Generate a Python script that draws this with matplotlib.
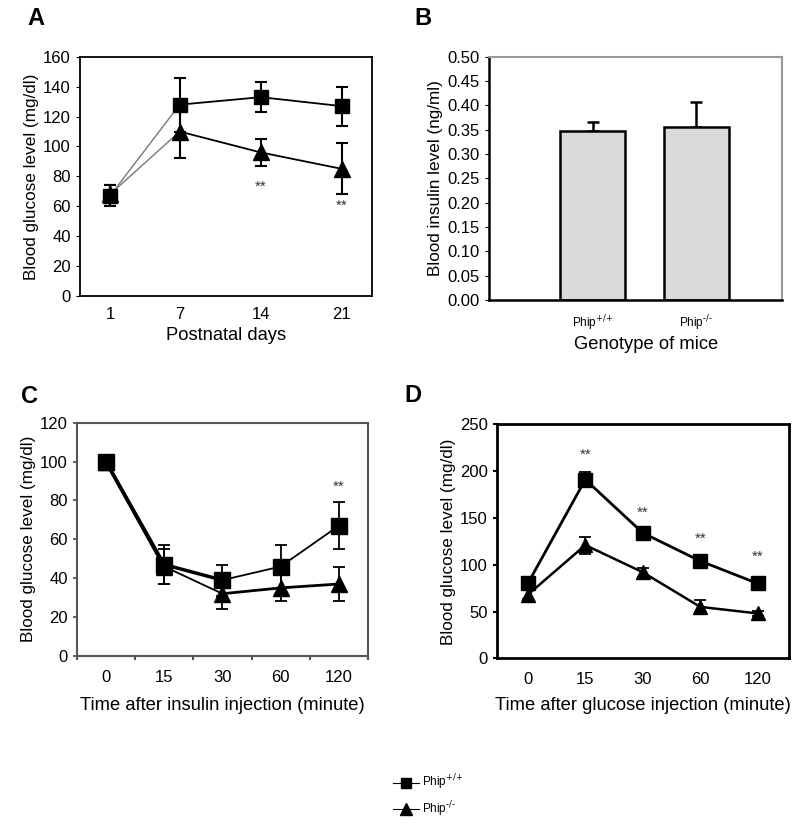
import matplotlib.pyplot as plt
import numpy as np

plt.rcParams['font.family'] = ['Liberation Sans', 'DejaVu Sans']

# panel A: postnatal glucose
days = [1, 7, 14, 21]
a_wt = [67, 128, 133, 127]
a_wt_err = [7, 18, 10, 13]
a_ko = [68, 110, 96, 85]
a_ko_err = [6, 18, 9, 17]
a_star_y = [None, None, 73, 60]

# panel B: insulin
genotypes = ['Phip$^{\\text{+/+}}$', 'Phip$^{\\text{-/-}}$']
insulin = [0.348, 0.355]
insulin_err = [0.019, 0.052]

# panel C: insulin tolerance
c_times = ['0', '15', '30', '60', '120']
c_wt = [100, 47, 39, 46, 67]
c_wt_err = [0, 10, 8, 11, 12]
c_ko = [100, 46, 32, 35, 37]
c_ko_err = [0, 9, 8, 7, 9]
c_star_y = [None, None, None, None, 87]

# panel D: glucose tolerance
d_times = ['0', '15', '30', '60', '120']
d_wt = [80, 191, 134, 104, 80]
d_wt_err = [4, 8, 3, 4, 3]
d_ko = [68, 121, 92, 55, 48]
d_ko_err = [5, 9, 5, 7, 3]
d_star_y = [None, 217, 156, 128, 108]

fig = plt.figure(figsize=(8, 8.24), dpi=100)

tick_fs = 12
xlab_fs = 13.2
ylab_fs = 12.3
star_fs = 11

# ---------- A ----------
ax = fig.add_axes([0.100, 0.641, 0.365, 0.290])
x = np.array(days)
ax.plot(x[:2], a_wt[:2], color='#777777', lw=1, zorder=2)
ax.plot(x[:2], a_ko[:2], color='#777777', lw=1, zorder=2)
ax.plot(x[1:], a_wt[1:], color='black', lw=1.3, zorder=2)
ax.plot(x[1:], a_ko[1:], color='black', lw=1.3, zorder=2)
ax.errorbar(x, a_ko, yerr=a_ko_err, fmt='^', color='black', ms=11,
            capsize=4, elinewidth=1.5, capthick=1.5, zorder=3)
ax.errorbar(x, a_wt, yerr=a_wt_err, fmt='s', color='black', ms=10,
            capsize=4, elinewidth=1.5, capthick=1.5, zorder=4)
for xi, s in zip(days, a_star_y):
    if s is not None:
        ax.text(xi, s, '**', ha='center', va='center', fontsize=star_fs, color='#333333')
ax.set_xlim(-1.6, 23.6)
ax.set_ylim(0, 160)
ax.set_yticks(range(0, 161, 20))
ax.set_xticks(days)
ax.tick_params(axis='x', length=0, labelsize=tick_fs, pad=8)
ax.tick_params(axis='y', length=3, labelsize=tick_fs)
ax.set_xlabel('Postnatal days', fontsize=xlab_fs, labelpad=4)
ax.set_ylabel('Blood glucose level (mg/dl)', fontsize=ylab_fs, labelpad=3)
for sp in ax.spines.values():
    sp.set_linewidth(1.3)
fig.text(0.034, 0.978, 'A', fontsize=17, fontweight='bold', va='center', ha='left')

# ---------- B ----------
ax = fig.add_axes([0.611, 0.636, 0.366, 0.295])
bx = [1, 2]
ax.bar(bx, insulin, width=0.63, color='#d9d9d9', edgecolor='black', lw=1.8, zorder=2)
ax.errorbar(bx, insulin, yerr=[[0, 0], insulin_err], fmt='none', ecolor='black',
            capsize=4, elinewidth=1.8, capthick=1.8, zorder=1)
ax.set_xlim(0, 2.82)
ax.set_ylim(0, 0.5)
ax.set_yticks(np.arange(0, 0.501, 0.05))
ax.set_yticklabels(['%.2f' % v for v in np.arange(0, 0.501, 0.05)])
ax.set_xticks(bx)
ax.set_xticklabels(genotypes, fontsize=8.5)
ax.tick_params(axis='x', length=0, pad=10)
ax.tick_params(axis='y', length=3, labelsize=tick_fs)
ax.set_xlabel('Genotype of mice', fontsize=xlab_fs)
ax.xaxis.set_label_coords(0.536, -0.15)
ax.set_ylabel('Blood insulin level (ng/ml)', fontsize=ylab_fs, labelpad=3)
ax.spines['left'].set_linewidth(1.8)
ax.spines['bottom'].set_linewidth(1.8)
for k in ['top', 'right']:
    ax.spines[k].set_color('#999999')
    ax.spines[k].set_linewidth(1.5)
fig.text(0.518, 0.978, 'B', fontsize=17, fontweight='bold', va='center', ha='left')

# ---------- C ----------
ax = fig.add_axes([0.096, 0.204, 0.364, 0.283])
cx = np.arange(len(c_times))
ax.plot(cx[:3], c_wt[:3], color='black', lw=2.5, zorder=2)
ax.plot(cx[2:], c_wt[2:], color='black', lw=1.3, zorder=2)
ax.plot(cx[:2], c_ko[:2], color='black', lw=2.5, zorder=2)
ax.plot(cx[1:3], c_ko[1:3], color='black', lw=1.3, zorder=2)
ax.plot(cx[2:], c_ko[2:], color='black', lw=2, zorder=2)
ax.errorbar(cx, c_ko, yerr=c_ko_err, fmt='^', color='black', ms=11,
            capsize=4, elinewidth=1.3, capthick=1.3, zorder=3)
ax.errorbar(cx, c_wt, yerr=c_wt_err, fmt='s', color='black', ms=11,
            capsize=4, elinewidth=1.3, capthick=1.3, zorder=4)
for xi, s in zip(cx, c_star_y):
    if s is not None:
        ax.text(xi, s, '**', ha='center', va='center', fontsize=star_fs, color='#333333')
ax.set_xlim(-0.5, 4.5)
ax.set_ylim(0, 120)
ax.set_yticks(range(0, 121, 20))
ax.set_xticks(cx)
ax.set_xticklabels(c_times)
ax.set_xticks(np.arange(-0.5, 4.6, 1), minor=True)
ax.tick_params(axis='x', which='major', length=0, labelsize=tick_fs, pad=10)
ax.tick_params(axis='x', which='minor', length=3, width=1.5, color='#555555')
ax.tick_params(axis='y', length=3, width=1.3, color='#555555', labelsize=tick_fs)
ax.set_xlabel('Time after insulin injection (minute)', fontsize=xlab_fs, labelpad=9)
ax.set_ylabel('Blood glucose level (mg/dl)', fontsize=ylab_fs, labelpad=3)
for sp in ax.spines.values():
    sp.set_color('#555555')
    sp.set_linewidth(1.5)
fig.text(0.026, 0.519, 'C', fontsize=17, fontweight='bold', va='center', ha='left')

# ---------- D ----------
ax = fig.add_axes([0.621, 0.201, 0.365, 0.284])
dx = np.arange(len(d_times))
ax.plot(dx, d_wt, color='black', lw=2, zorder=2)
ax.plot(dx, d_ko, color='black', lw=1.8, zorder=2)
ax.errorbar(dx, d_ko, yerr=d_ko_err, fmt='^', color='black', ms=10,
            capsize=4, elinewidth=1.3, capthick=1.3, zorder=3)
ax.errorbar(dx, d_wt, yerr=d_wt_err, fmt='s', color='black', ms=10,
            capsize=4, elinewidth=1.3, capthick=1.3, zorder=4)
for xi, s in zip(dx, d_star_y):
    if s is not None:
        ax.text(xi, s, '**', ha='center', va='center', fontsize=star_fs, color='#333333')
ax.set_xlim(-0.54, 4.54)
ax.set_ylim(0, 250)
ax.set_yticks(range(0, 251, 50))
ax.set_xticks(dx)
ax.set_xticklabels(d_times)
ax.tick_params(axis='x', length=0, labelsize=tick_fs, pad=10)
ax.tick_params(axis='y', length=3, width=1.5, labelsize=tick_fs)
ax.set_xlabel('Time after glucose injection (minute)', fontsize=xlab_fs, labelpad=7)
ax.set_ylabel('Blood glucose level (mg/dl)', fontsize=ylab_fs, labelpad=3)
for sp in ax.spines.values():
    sp.set_linewidth(2)
fig.text(0.506, 0.520, 'D', fontsize=17, fontweight='bold', va='center', ha='left')

# ---------- legend ----------
h1, = ax.plot([], [], '-s', color='black', ms=7, lw=0.8)
h2, = ax.plot([], [], '-^', color='black', ms=8, lw=0.8)
fig.legend([h1, h2], genotypes, loc='center',
           bbox_to_anchor=(0.535, 0.034), frameon=False, fontsize=8.5,
           handlelength=2.2, labelspacing=0.6, handletextpad=0.3)

fig.savefig('out.png', dpi=100)
